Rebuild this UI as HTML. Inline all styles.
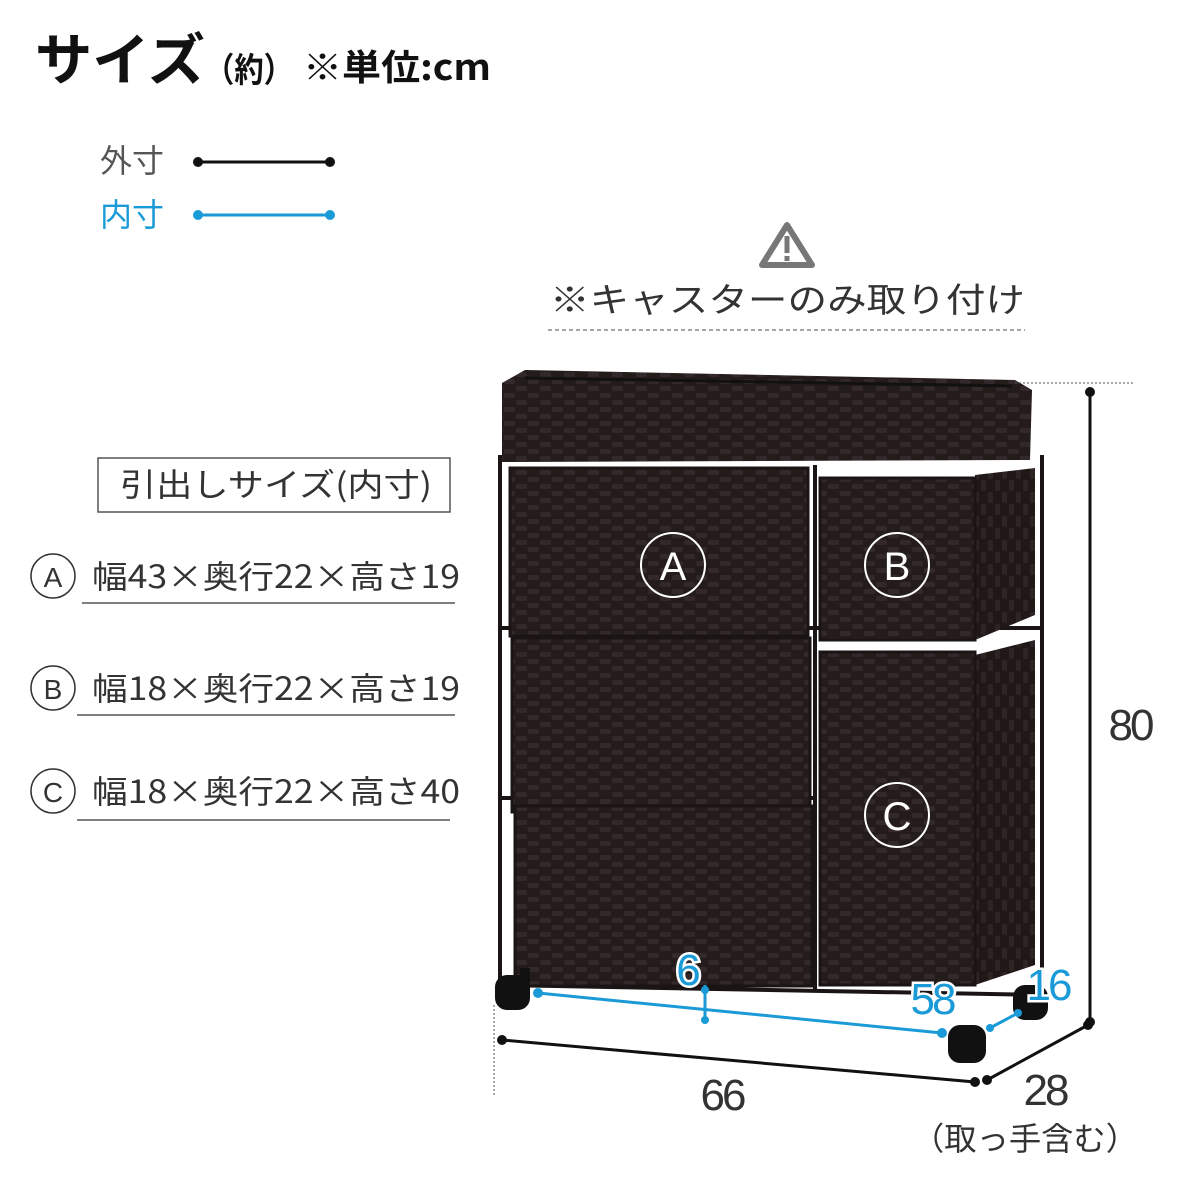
<!DOCTYPE html>
<html><head><meta charset="utf-8"><style>
body{margin:0;background:#fff}
svg{display:block}
text{font-family:"Liberation Sans","Noto Sans CJK JP",sans-serif}
.j{font-family:"Noto Sans CJK JP",sans-serif}
</style></head><body>
<svg width="1200" height="1200" viewBox="0 0 1200 1200" xmlns="http://www.w3.org/2000/svg">
<defs>
<pattern id="w" width="24" height="14" patternUnits="userSpaceOnUse">
<rect width="24" height="14" fill="#241c1a"/>
<rect x="0" y="1" width="11" height="5" rx="2" fill="#33292a"/>
<rect x="12" y="8" width="11" height="5" rx="2" fill="#33292a"/>
</pattern>
<pattern id="ws" width="14" height="24" patternUnits="userSpaceOnUse">
<rect width="14" height="24" fill="#201817"/>
<rect x="1" y="0" width="5" height="11" rx="2" fill="#2e2424"/>
<rect x="8" y="12" width="5" height="11" rx="2" fill="#2e2424"/>
</pattern>
</defs>
<!-- Title -->
<text class="j" x="35" y="80" font-size="56" font-weight="bold" fill="#111" textLength="170" lengthAdjust="spacingAndGlyphs">サイズ</text>
<text class="j" x="205" y="82" font-size="34" font-weight="bold" fill="#111" textLength="88" lengthAdjust="spacingAndGlyphs">（約）</text>
<text class="j" x="303" y="80" font-size="36" font-weight="bold" fill="#111" textLength="188" lengthAdjust="spacingAndGlyphs">※単位:cm</text>
<!-- Legend -->
<text class="j" x="100" y="172" font-size="32" fill="#555">外寸</text>
<line x1="198" y1="162" x2="330" y2="162" stroke="#111" stroke-width="3"/>
<circle cx="198" cy="162" r="5" fill="#111"/><circle cx="330" cy="162" r="5" fill="#111"/>
<text class="j" x="100" y="226" font-size="32" fill="#1a9ad6">内寸</text>
<line x1="198" y1="215" x2="330" y2="215" stroke="#1a9ad6" stroke-width="3"/>
<circle cx="198" cy="215" r="5" fill="#1a9ad6"/><circle cx="330" cy="215" r="5" fill="#1a9ad6"/>
<!-- Warning -->
<path d="M787 225 L812 265 L762 265 Z" fill="none" stroke="#777" stroke-width="6" stroke-linejoin="round"/>
<rect x="784.5" y="236" width="5" height="17" fill="#777"/><rect x="784.5" y="256" width="5" height="5" fill="#777"/>
<text class="j" x="550" y="312" font-size="34" fill="#333" textLength="475" lengthAdjust="spacingAndGlyphs">※キャスターのみ取り付け</text>
<line x1="548" y1="330" x2="1025" y2="330" stroke="#888" stroke-width="1.5" stroke-dasharray="4,3"/>
<!-- drawer sizes -->
<rect x="98" y="458" width="352" height="54" fill="none" stroke="#555" stroke-width="1.5"/>
<text class="j" x="120" y="496" font-size="32" fill="#333" textLength="312" lengthAdjust="spacingAndGlyphs">引出しサイズ(内寸)</text>
<g font-size="32" fill="#333">
<circle cx="53" cy="576" r="22" fill="none" stroke="#333" stroke-width="1.5"/><text x="53" y="587" font-size="28" text-anchor="middle">A</text>
<text class="j" x="92" y="588" textLength="368" lengthAdjust="spacingAndGlyphs">幅43×奥行22×高さ19</text>
<line x1="82" y1="603" x2="455" y2="603" stroke="#555" stroke-width="1.5"/>
<circle cx="53" cy="688" r="22" fill="none" stroke="#333" stroke-width="1.5"/><text x="53" y="699" font-size="28" text-anchor="middle">B</text>
<text class="j" x="92" y="700" textLength="368" lengthAdjust="spacingAndGlyphs">幅18×奥行22×高さ19</text>
<line x1="77" y1="715" x2="455" y2="715" stroke="#555" stroke-width="1.5"/>
<circle cx="53" cy="791" r="22" fill="none" stroke="#333" stroke-width="1.5"/><text x="53" y="802" font-size="28" text-anchor="middle">C</text>
<text class="j" x="92" y="803" textLength="368" lengthAdjust="spacingAndGlyphs">幅18×奥行22×高さ40</text>
<line x1="77" y1="820" x2="450" y2="820" stroke="#555" stroke-width="1.5"/>
</g>
<!-- furniture frame -->
<g stroke="#1a1414" stroke-width="4" fill="none">
<line x1="500" y1="455" x2="500" y2="985"/><line x1="1042" y1="455" x2="1042" y2="985"/>
<line x1="815" y1="465" x2="815" y2="990"/>
<line x1="500" y1="985" x2="1042" y2="995"/>
<line x1="500" y1="628" x2="1042" y2="628"/>
<line x1="500" y1="798" x2="815" y2="798"/>
</g>
<!-- top tray -->
<path d="M502 383 L525 370 L1015 380 L1032 390 L1030 460 L502 462 Z" fill="url(#w)"/>
<path d="M525 378 L1012 386" stroke="#111" stroke-width="3"/>
<!-- drawers -->
<rect x="510" y="468" width="298" height="168" fill="url(#w)" stroke="#1a1414" stroke-width="3"/>
<path d="M975 475 L1035 468 L1035 615 L975 640 Z" fill="url(#ws)"/>
<rect x="820" y="478" width="155" height="162" fill="url(#w)" stroke="#1a1414" stroke-width="3"/>
<rect x="512" y="638" width="298" height="174" fill="url(#w)" stroke="#1a1414" stroke-width="3"/>
<rect x="515" y="806" width="297" height="180" fill="url(#w)" stroke="#1a1414" stroke-width="3"/>
<path d="M975 655 L1035 640 L1035 965 L975 985 Z" fill="url(#ws)"/>
<rect x="820" y="652" width="155" height="333" fill="url(#w)" stroke="#1a1414" stroke-width="3"/>
<g fill="none" stroke="#fff" stroke-width="2">
<circle cx="673" cy="565" r="32"/><circle cx="897" cy="565" r="32"/><circle cx="897" cy="815" r="32"/>
</g>
<g fill="#fff" font-size="40" text-anchor="middle">
<text x="673" y="580">A</text><text x="897" y="580">B</text><text x="897" y="830">C</text>
</g>
<!-- wheels -->
<g fill="#111">
<rect x="495" y="975" width="35" height="35" rx="12"/><rect x="520" y="968" width="10" height="15"/>
<rect x="1013" y="985" width="35" height="35" rx="12"/>
<rect x="948" y="1025" width="38" height="38" rx="12"/>
</g>
<!-- dimensions -->
<line x1="1015" y1="383" x2="1135" y2="383" stroke="#555" stroke-width="1" stroke-dasharray="2,2"/>
<line x1="494" y1="1005" x2="494" y2="1095" stroke="#555" stroke-width="1" stroke-dasharray="2,2"/>
<g stroke="#111" stroke-width="3">
<line x1="1090" y1="392" x2="1090" y2="1022"/>
<line x1="502" y1="1040" x2="975" y2="1082"/>
<line x1="987" y1="1080" x2="1088" y2="1025"/>
</g>
<g fill="#111">
<circle cx="1090" cy="392" r="5"/><circle cx="1090" cy="1022" r="5"/>
<circle cx="502" cy="1040" r="5"/><circle cx="975" cy="1082" r="5"/>
<circle cx="987" cy="1080" r="5"/><circle cx="1088" cy="1025" r="5"/>
</g>
<g stroke="#1a9ad6" stroke-width="3">
<line x1="538" y1="993" x2="942" y2="1033"/>
<line x1="705" y1="985" x2="705" y2="1022"/>
<line x1="990" y1="1028" x2="1018" y2="1013"/>
</g>
<g fill="#1a9ad6">
<circle cx="538" cy="993" r="5"/><circle cx="942" cy="1033" r="5"/>
<circle cx="705" cy="990" r="4"/><circle cx="705" cy="1020" r="4"/>
<circle cx="990" cy="1028" r="4"/><circle cx="1018" cy="1013" r="4"/>
</g>
<g font-size="44" fill="#1a9ad6" text-anchor="middle" letter-spacing="-3">
<text x="687" y="985" stroke="#fff" stroke-width="5" paint-order="stroke">6</text>
<text x="932" y="1014" stroke="#fff" stroke-width="5" paint-order="stroke">58</text>
<text x="1048" y="1000" stroke="#fff" stroke-width="5" paint-order="stroke">16</text>
</g>
<g font-size="44" fill="#333" text-anchor="middle" letter-spacing="-3">
<text x="1130" y="740">80</text>
<text x="722" y="1110">66</text>
<text x="1045" y="1105">28</text>
</g>
<text class="j" x="912" y="1150" font-size="32" fill="#333" textLength="226" lengthAdjust="spacingAndGlyphs">（取っ手含む）</text>
</svg>
</body></html>
